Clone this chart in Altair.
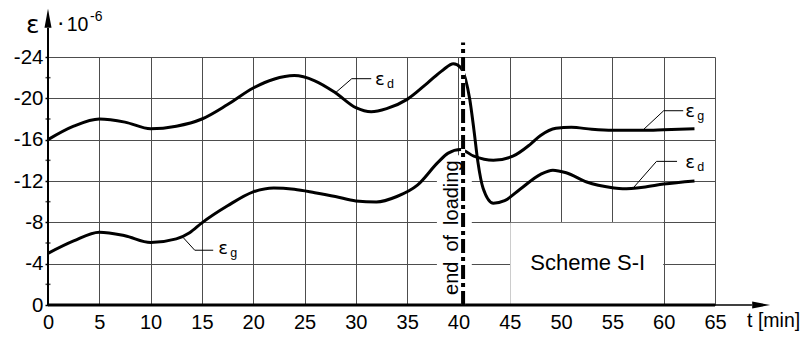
import altair as alt
import pandas as pd

FONT = "Liberation Sans"
EPS_FONT = "DejaVu Sans"
GRID = "#4d4d4d"

# ---- data ----
t_d = [0, 2.5, 5, 7.5, 10, 12.5, 15, 17.5, 20, 22, 24, 26, 28, 30, 31.5, 33, 35, 37, 38.5, 39.5,
       40.2, 40.7, 41.1, 41.5, 41.9, 42.4, 43.4, 44.5, 46, 48, 49.2, 50.5, 52.5, 55, 56, 58, 60, 63]
eps_d = [-16, -17.3, -18, -17.7, -17.05, -17.3, -18, -19.4, -21, -21.85, -22.2, -21.7, -20.55, -19.1,
         -18.7, -19.0, -19.9, -21.5, -22.75, -23.35, -23.0, -21.8, -19.9, -17.0, -13.8, -11.3, -9.85,
         -10.1, -11.2, -12.65, -13.05, -12.8, -11.9, -11.35, -11.25, -11.4, -11.7, -12.0]

t_g = [0, 2.5, 5, 7.5, 10, 12.5, 13.8, 15, 17.5, 20, 22, 24, 26, 28, 30, 32, 34, 36, 38, 39,
       40.2, 41.5, 43.4, 45.3, 47, 48, 49.5, 51, 53, 55, 58, 60, 63]
eps_g = [-5, -6.2, -7.05, -6.7, -6.05, -6.4, -7.0, -7.95, -9.6, -10.95, -11.33, -11.2, -10.87, -10.5,
         -10.07, -9.97, -10.5, -11.6, -13.8, -14.7, -15.05, -14.4, -14.0, -14.4, -15.55, -16.4, -17.1,
         -17.2, -17.0, -16.9, -16.9, -16.95, -17.05]

x_ticks = [0, 5, 10, 15, 20, 25, 30, 35, 40, 45, 50, 55, 60, 65]
y_ticks = [0, -4, -8, -12, -16, -20, -24]
y_minor = [-2, -6, -10, -14, -18, -22]
t_unload = 40.45

label_t = [31.87, 16.6, 62.09, 62.09]
label_v = [-21.27, -4.94, -18.23, -13.29]
label_sub = ["d", "g", "g", "d"]

leader_id = [1, 1, 1, 2, 2, 2, 3, 3, 3, 4, 4, 4]
leader_t = [27.97, 29.6, 31.5, 13.2, 14.3, 16.1, 58.0, 60.0, 61.9, 57.05, 59.3, 61.3]
leader_v = [-20.5, -21.9, -21.9, -6.5, -5.3, -5.3, -16.95, -18.8, -18.8, -11.35, -13.9, -13.9]

# ---- tables ----
curves = pd.concat([
    pd.DataFrame({"t": t_d, "v": eps_d, "s": "d"}),
    pd.DataFrame({"t": t_g, "v": eps_g, "s": "g"}),
])
labels = pd.DataFrame({"t": label_t, "v": label_v, "sub": label_sub, "eps": ["ε"] * 4})
leaders = pd.DataFrame({"id": leader_id, "t": leader_t, "v": leader_v})
masks = pd.DataFrame({"t": [45.05, 37.9], "t2": [59.95, 41.3], "v": [-7.95, -14.5], "v2": [0, 0]})
axes_lines = pd.DataFrame({"t": [0, 65, 0], "t2": [65, 68.6, 0], "v": [0, 0, 0],
                           "v2": [0, 0, -26.8], "w": [3, 1.3, 2]})
minor = pd.DataFrame({"t": [0] * len(y_minor), "v": y_minor})
unload = pd.DataFrame({"t": [t_unload], "v": [0], "v2": [-25.4]})

X = alt.X("t:Q", title=None,
          scale=alt.Scale(domain=[0, 65], nice=False, zero=False),
          axis=alt.Axis(values=x_ticks, grid=True, domain=False, ticks=False, tickSize=0,
                        labelPadding=7, labelFontSize=20, labelFont=FONT, labelColor="black",
                        gridColor=GRID, gridWidth=1, labelFlush=False, labelOverlap=False,
                        title=None))
Y = alt.Y("v:Q", title=None,
          scale=alt.Scale(domain=[0, -24], nice=False, zero=False),
          axis=alt.Axis(values=y_ticks, grid=True, domain=False, ticks=True, tickSize=3,
                        tickColor="black", tickWidth=1.5, labelPadding=2, labelFontSize=20.5,
                        labelFont=FONT, labelColor="black", gridColor=GRID, gridWidth=1,
                        labelExpr="'' + datum.value", labelFlush=False, labelOverlap=False,
                        title=None))

mask_layer = alt.Chart(masks).mark_rect(color="white", opacity=1).encode(
    x=X, x2="t2:Q", y=Y, y2="v2:Q")

axis_layer = alt.Chart(axes_lines).mark_rule(color="black").encode(
    x=X, x2="t2:Q", y=Y, y2="v2:Q", strokeWidth=alt.StrokeWidth("w:Q", scale=None, legend=None))

minor_layer = alt.Chart(minor).mark_tick(orient="horizontal", size=5, thickness=1.5,
                                         color="black").encode(x=X, y=Y)

curve_layer = alt.Chart(curves).mark_line(color="black", strokeWidth=3,
                                          interpolate="monotone").encode(
    x=X, y=Y, detail="s:N", order="t:Q")

leader_layer = alt.Chart(leaders).mark_line(color="black", strokeWidth=1).encode(
    x=X, y=Y, detail="id:N")

dash_white = alt.Chart(unload).mark_rule(color="white", strokeWidth=4).encode(
    x=X, y=Y, y2="v2:Q")
dash_black = alt.Chart(unload).mark_rule(color="black", strokeWidth=4,
                                         strokeDash=[14, 4, 4, 4]).encode(
    x=X, y=Y, y2="v2:Q")

arrow_up = alt.Chart(pd.DataFrame({"t": [0], "v": [-27.75]})).mark_point(
    shape="M 0 -1 L 0.37 1 L -0.37 1 Z", filled=True, size=361, color="black",
    opacity=1, strokeWidth=0).encode(x=X, y=Y)
arrow_right = alt.Chart(pd.DataFrame({"t": [69.5], "v": [0]})).mark_point(
    shape="M 1 0 L -1 -0.39 L -1 0.39 Z", filled=True, size=324, color="black",
    opacity=1, strokeWidth=0).encode(x=X, y=Y)

eps_layer = alt.Chart(labels).mark_text(font=EPS_FONT, fontSize=18, align="left",
                                        baseline="alphabetic", color="black").encode(
    x=X, y=Y, text="eps:N")
sub_layer = alt.Chart(labels).mark_text(font=FONT, fontSize=12.5, align="left",
                                        baseline="alphabetic", dx=12, dy=3,
                                        color="black").encode(x=X, y=Y, text="sub:N")

def txt(t, v, s, **kw):
    return alt.Chart(pd.DataFrame({"t": [t], "v": [v], "txt": [s]})).mark_text(
        color="black", **kw).encode(x=X, y=Y, text="txt:N")

scheme = txt(52.6, -4.1, "Scheme S-I", font=FONT, fontSize=22, align="center", baseline="middle")
endload = txt(40.0, -7.48, "end\u2002of\u2002loading", font=FONT, fontSize=20, angle=270,
              align="center", baseline="alphabetic")
big_eps = txt(-1.49, -26.3, "ε", font=EPS_FONT, fontSize=25, align="center", baseline="alphabetic")
dot = txt(1.25, -27.3, "·", font=FONT, fontSize=24, align="center", baseline="middle")
ten = txt(1.83, -26.5, "10", font=FONT, fontSize=19.5, align="left", baseline="alphabetic")
expo = txt(4.09, -27.5, "-6", font=FONT, fontSize=14, align="left", baseline="alphabetic")
tmin = txt(68.13, 2.1, "t [min]", font=FONT, fontSize=19.5, align="left", baseline="alphabetic")

chart = alt.layer(
    mask_layer, axis_layer, minor_layer, curve_layer, leader_layer,
    dash_white, dash_black, arrow_up, arrow_right,
    eps_layer, sub_layer, scheme, endload, big_eps, dot, ten, expo, tmin,
).properties(
    width=667, height=248,
    padding={"left": 40, "top": 49, "right": 87, "bottom": 27},
    autosize=alt.AutoSizeParams(type="none"),
    background="white",
).configure_view(stroke=None)

chart.save("out.html", embed_options={"renderer": "svg", "actions": False})
